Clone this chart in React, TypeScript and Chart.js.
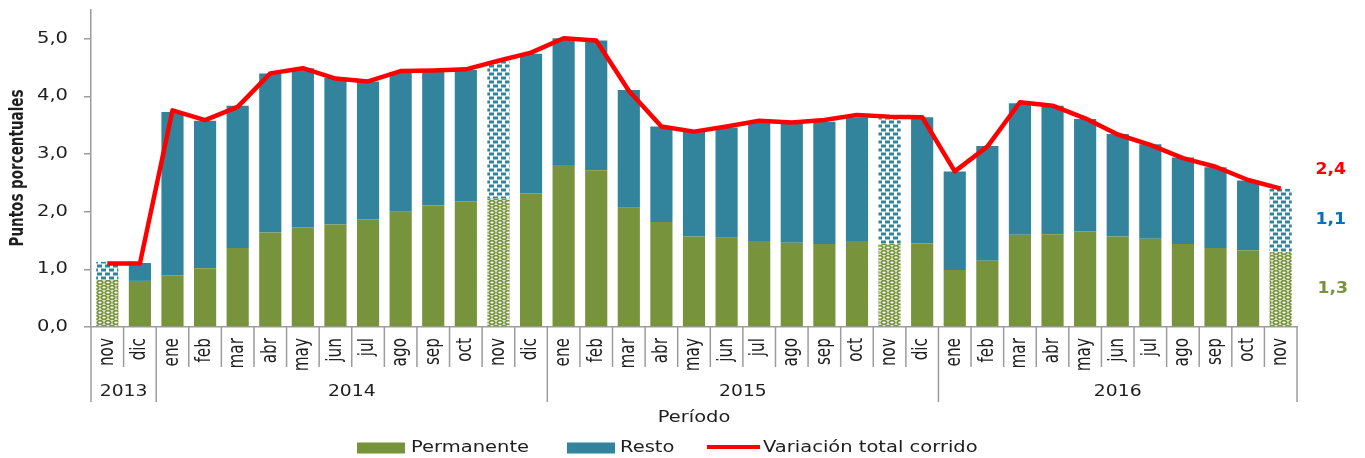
import React, { useEffect, useRef } from "react";
import { Chart, registerables } from "chart.js";

Chart.register(...registerables);

const months = [
  "nov", "dic",
  "ene", "feb", "mar", "abr", "may", "jun", "jul", "ago", "sep", "oct", "nov", "dic",
  "ene", "feb", "mar", "abr", "may", "jun", "jul", "ago", "sep", "oct", "nov", "dic",
  "ene", "feb", "mar", "abr", "may", "jun", "jul", "ago", "sep", "oct", "nov",
];

const years = ["2013", "2014", "2015", "2016"];
const yearSpans = [2, 12, 12, 11];

const permanente = [
  0.82, 0.80,
  0.90, 1.02, 1.37, 1.64, 1.73, 1.78, 1.87, 2.00, 2.11, 2.18, 2.23, 2.32,
  2.81, 2.72, 2.07, 1.82, 1.57, 1.55, 1.49, 1.46, 1.44, 1.49, 1.44, 1.45,
  0.99, 1.15, 1.60, 1.61, 1.66, 1.57, 1.53, 1.44, 1.37, 1.33, 1.30,
];

const resto = [
  0.31, 0.31,
  2.83, 2.56, 2.47, 2.76, 2.76, 2.54, 2.39, 2.42, 2.33, 2.28, 2.38, 2.42,
  2.20, 2.25, 2.04, 1.66, 1.82, 1.91, 2.05, 2.06, 2.12, 2.15, 2.18, 2.19,
  1.71, 1.99, 2.28, 2.23, 1.95, 1.78, 1.64, 1.50, 1.40, 1.21, 1.10,
];

const variacion = [
  1.10, 1.10,
  3.76, 3.59, 3.82, 4.40, 4.49, 4.31, 4.26, 4.44, 4.45, 4.47, 4.62, 4.76,
  5.01, 4.97, 4.10, 3.48, 3.39, 3.48, 3.58, 3.55, 3.59, 3.68, 3.65, 3.64,
  2.70, 3.13, 3.90, 3.84, 3.62, 3.34, 3.16, 2.93, 2.78, 2.55, 2.40,
];

const patterned = [0, 12, 24, 36];
const yTicks = [0, 1, 2, 3, 4, 5];
const yTickLabels = ["0,0", "1,0", "2,0", "3,0", "4,0", "5,0"];
const endLabels = ["2,4", "1,1", "1,3"];

const GREEN = "#77933C";
const BLUE = "#31849B";
const RED = "#FF0000";
const GRAY = "#9c9c9c";
const TEXT = "#1e1e1e";
const WIDE = "'DejaVu Sans', Verdana, sans-serif";
const NARROW = "'Liberation Sans Narrow', 'Arial Narrow', 'DejaVu Sans Condensed', sans-serif";

function makeGreenPattern(): CanvasPattern | string {
  const c = document.createElement("canvas");
  c.width = 8;
  c.height = 10;
  const g = c.getContext("2d");
  if (!g) return GREEN;
  g.fillStyle = "#ffffff";
  g.fillRect(0, 0, 8, 10);
  const blobs = [[4, 2.5], [0, 7.5], [8, 7.5], [4, 12.5], [0, -2.5], [8, -2.5]];
  g.fillStyle = GREEN;
  for (const [bx, by] of blobs) {
    g.beginPath();
    g.ellipse(bx, by, 3.7, 2.7, 0, 0, Math.PI * 2);
    g.fill();
  }
  g.fillStyle = "#ffffff";
  for (const [bx, by] of blobs) {
    g.beginPath();
    g.ellipse(bx, by, 1.7, 0.9, 0, 0, Math.PI * 2);
    g.fill();
  }
  const p = g.createPattern(c, "repeat");
  return p || GREEN;
}

function makeBluePattern(): CanvasPattern | string {
  const c = document.createElement("canvas");
  c.width = 8;
  c.height = 8;
  const g = c.getContext("2d");
  if (!g) return BLUE;
  g.fillStyle = "#ffffff";
  g.fillRect(0, 0, 8, 8);
  g.fillStyle = BLUE;
  g.fillRect(1, 0.5, 5, 3);
  g.fillRect(5, 4.5, 3, 3);
  g.fillRect(0, 4.5, 2, 3);
  const p = g.createPattern(c, "repeat");
  return p || BLUE;
}

type TxtOpts = {
  font: string;
  color: string;
  align?: CanvasTextAlign;
  baseline?: CanvasTextBaseline;
  sx?: number;
  rotate?: boolean;
};

function drawText(ctx: CanvasRenderingContext2D, s: string, x: number, y: number, o: TxtOpts) {
  ctx.save();
  ctx.translate(x, y);
  const sx = o.sx ?? 1.3;
  if (o.rotate) {
    ctx.rotate(-Math.PI / 2);
    ctx.scale(1, sx);
  } else {
    ctx.scale(sx, 1);
  }
  ctx.font = o.font;
  ctx.fillStyle = o.color;
  ctx.textAlign = o.align ?? "center";
  ctx.textBaseline = o.baseline ?? "middle";
  ctx.fillText(s, 0, 0);
  ctx.restore();
}

const decorPlugin = {
  id: "decor",
  afterDraw(chart: any) {
    const ctx: CanvasRenderingContext2D = chart.ctx;
    const xs = chart.scales.x;
    const ys = chart.scales.y;
    const area = chart.chartArea;
    const n = months.length;
    const cw = xs.getPixelForValue(1) - xs.getPixelForValue(0);
    const bottom = area.bottom;

    // y tick labels
    yTicks.forEach((v, i) => {
      drawText(ctx, yTickLabels[i], area.left - 23, ys.getPixelForValue(v), {
        font: `15px ${WIDE}`,
        color: TEXT,
        align: "right",
      });
    });

    // y title
    drawText(ctx, "Puntos porcentuales", 18, 168, {
      font: `bold 15px ${NARROW}`,
      color: TEXT,
      rotate: true,
      sx: 1.35,
    });

    // separators
    const yearBounds = new Set<number>();
    let acc = 0;
    yearBounds.add(0);
    yearSpans.forEach((s) => {
      acc += s;
      yearBounds.add(acc);
    });
    ctx.save();
    ctx.strokeStyle = GRAY;
    ctx.lineWidth = 1.5;
    for (let i = 0; i <= n; i++) {
      const bx = xs.getPixelForValue(i) - cw / 2;
      ctx.beginPath();
      ctx.moveTo(bx, bottom);
      ctx.lineTo(bx, yearBounds.has(i) ? bottom + 75 : bottom + 40);
      ctx.stroke();
    }
    ctx.restore();

    // month labels
    months.forEach((m, i) => {
      drawText(ctx, m, xs.getPixelForValue(i), bottom + 11, {
        font: `17px ${NARROW}`,
        color: TEXT,
        align: "right",
        rotate: true,
        sx: 1.2,
      });
    });

    // year labels
    let start = 0;
    years.forEach((yname, k) => {
      const end = start + yearSpans[k] - 1;
      const cx = (xs.getPixelForValue(start) + xs.getPixelForValue(end)) / 2;
      drawText(ctx, yname, cx, bottom + 65, { font: `15px ${WIDE}`, color: TEXT, sx: 1.25 });
      start += yearSpans[k];
    });

    // axis title
    drawText(ctx, "Período", (area.left + area.right) / 2, bottom + 91, {
      font: `15px ${WIDE}`,
      color: TEXT,
      sx: 1.3,
    });

    // end labels
    const last = n - 1;
    const lx = xs.getPixelForValue(last) + 50;
    drawText(ctx, endLabels[0], lx, ys.getPixelForValue(variacion[last]) - 19, {
      font: `bold 15px ${WIDE}`,
      color: RED,
      sx: 1.15,
    });
    drawText(ctx, endLabels[1], lx, ys.getPixelForValue(permanente[last] + resto[last] / 2), {
      font: `bold 15px ${WIDE}`,
      color: "#0070C0",
      sx: 1.15,
    });
    drawText(ctx, endLabels[2], lx + 2, ys.getPixelForValue(permanente[last] / 2), {
      font: `bold 15px ${WIDE}`,
      color: GREEN,
      sx: 1.15,
    });

    // legend
    const ly = 448;
    ctx.save();
    ctx.fillStyle = GREEN;
    ctx.fillRect(357, ly - 5.5, 48, 11);
    ctx.fillStyle = BLUE;
    ctx.fillRect(567, ly - 5.5, 48, 11);
    ctx.strokeStyle = RED;
    ctx.lineWidth = 4;
    ctx.beginPath();
    ctx.moveTo(707, ly - 1);
    ctx.lineTo(760, ly - 1);
    ctx.stroke();
    ctx.restore();
    drawText(ctx, "Permanente", 411, ly, { font: `15px ${WIDE}`, color: TEXT, align: "left", sx: 1.3 });
    drawText(ctx, "Resto", 620, ly, { font: `15px ${WIDE}`, color: TEXT, align: "left", sx: 1.3 });
    drawText(ctx, "Variación total corrido", 763, ly, { font: `15px ${WIDE}`, color: TEXT, align: "left", sx: 1.3 });
  },
};

export default function App() {
  const ref = useRef<HTMLCanvasElement>(null);

  useEffect(() => {
    if (!ref.current) return;
    const gp = makeGreenPattern();
    const bp = makeBluePattern();
    const chart = new Chart(ref.current, {
      type: "bar",
      data: {
        labels: months,
        datasets: [
          {
            type: "line",
            label: "Variación total corrido",
            data: variacion,
            borderColor: RED,
            backgroundColor: RED,
            borderWidth: 4.5,
            pointRadius: 0,
            tension: 0,
            fill: false,
            borderJoinStyle: "round",
            order: 0,
          } as any,
          {
            type: "bar",
            label: "Permanente",
            data: permanente,
            backgroundColor: (c: any) => (patterned.includes(c.dataIndex) ? gp : GREEN),
            borderWidth: 0,
            barPercentage: 0.68,
            categoryPercentage: 1,
            order: 1,
          },
          {
            type: "bar",
            label: "Resto",
            data: resto,
            backgroundColor: (c: any) => (patterned.includes(c.dataIndex) ? bp : BLUE),
            borderWidth: 0,
            barPercentage: 0.68,
            categoryPercentage: 1,
            order: 1,
          },
        ],
      },
      options: {
        animation: false,
        responsive: true,
        maintainAspectRatio: false,
        layout: { padding: { left: 91, right: 68, top: 10, bottom: 131 } },
        plugins: { legend: { display: false }, tooltip: { enabled: false } },
        scales: {
          x: {
            stacked: true,
            offset: true,
            grid: { display: false },
            ticks: { display: false },
            border: { display: true, color: GRAY, width: 1.5 },
            afterFit: (s: any) => {
              s.height = 0;
            },
          },
          y: {
            stacked: true,
            min: 0,
            max: 5.5,
            ticks: { display: false, stepSize: 1, includeBounds: false },
            grid: { drawOnChartArea: false, drawTicks: true, tickLength: 7, color: GRAY, lineWidth: 1.5 },
            border: { display: true, color: GRAY, width: 1.5 },
            afterFit: (s: any) => {
              s.width = 0;
            },
          },
        },
      } as any,
      plugins: [decorPlugin],
    });
    return () => chart.destroy();
  }, []);

  return (
    <div style={{ position: "absolute", left: 0, top: 0, width: 1365, height: 458 }}>
      <canvas ref={ref} />
    </div>
  );
}
